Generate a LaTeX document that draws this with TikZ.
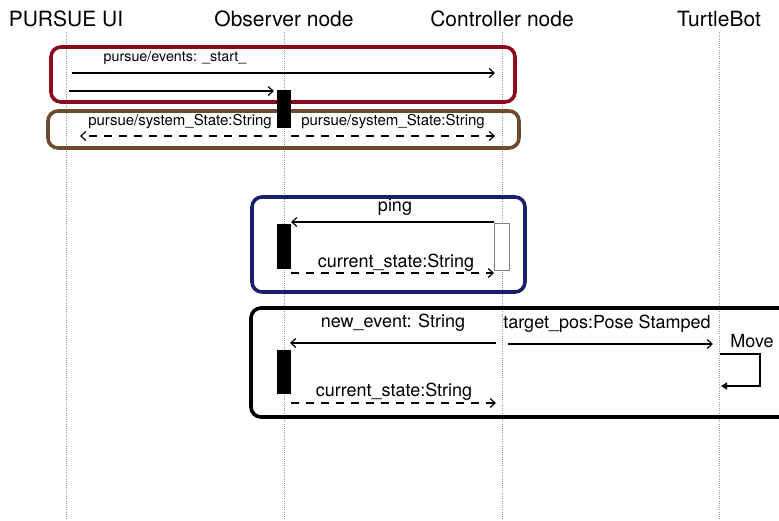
\documentclass[tikz,border=0pt]{standalone}
\usepackage{fontspec}
\setmainfont{TeX Gyre Heros}
\usetikzlibrary{arrows.meta}
\definecolor{boxred}{HTML}{8C0A1E}
\definecolor{boxbrown}{HTML}{6E4A2E}
\definecolor{boxnavy}{HTML}{1B1F6B}
\tikzset{
  head/.style={font=\fontsize{21}{21}\selectfont, inner sep=0pt},
  lifeline/.style={gray!80, line width=0.8pt, dash pattern=on 1pt off 1.2pt},
  group/.style={line width=3.6pt, rounded corners=10pt},
  msg/.style={line width=1.2pt, -{Straight Barb[length=5pt,width=9pt,line width=1.2pt]}},
  reply/.style={msg, dash pattern=on 8pt off 7pt},
  lbl/.style={inner sep=0pt},
  lblsm/.style={lbl, font=\fontsize{14.3}{14.3}\selectfont},
  lblmd/.style={lbl, font=\fontsize{15}{15}\selectfont},
  lblbig/.style={lbl, font=\fontsize{18}{18}\selectfont},
  actbar/.style={fill=black, draw=none, minimum width=14pt, inner sep=0pt},
  idlebar/.style={fill=white, draw=gray, line width=0.8pt, minimum width=15pt, inner sep=0pt},
}
\begin{document}
\begin{tikzpicture}[x=1pt, y=-1pt]
\useasboundingbox (0,0) rectangle (779,520);
\clip (0,0) rectangle (779,520);

% participants
\node[head] (ui)   at (66,19)  {PURSUE UI};
\node[head] (obs)  at (284,19) {Observer node};
\node[head] (ctrl) at (502,19) {Controller node};
\node[head] (bot)  at (719,19) {TurtleBot};

% lifelines
\coordinate (uiEnd)   at (66,520);
\coordinate (obsEnd)  at (284,520);
\coordinate (ctrlEnd) at (502,520);
\coordinate (botEnd)  at (719,520);
\draw[lifeline] (66,32) -- (uiEnd);
\draw[lifeline] (284,32) -- (obsEnd);
\draw[lifeline] (502,32) -- (ctrlEnd);
\draw[lifeline] (719,32) -- (botEnd);

% interaction groups
\draw[group, boxred]   (51,47)   rectangle (515,102);
\draw[group, boxbrown] (48,111)  rectangle (519,148);
\draw[group, boxnavy]  (252,197) rectangle (525,292);
\draw[group, black]    (251,308) rectangle (800,417);

% start event
\coordinate (s1a) at (72,73);  \coordinate (s1b) at (495,73);
\draw[msg] (s1a) -- (s1b);
\node[lblsm] (l1) at (175,58) {pursue/events: \_start\_};
\coordinate (s2a) at (69,91);  \coordinate (s2b) at (274,91);
\draw[msg] (s2a) -- (s2b);

% system state broadcast
\node[actbar, minimum height=38pt] (bar1) at (284,109) {};
\coordinate (s3a) at (277,136); \coordinate (s3b) at (80,136);
\coordinate (s3c) at (291,136); \coordinate (s3d) at (495,136);
\draw[reply] (s3a) -- (s3b);
\draw[reply] (s3c) -- (s3d);
\node[lblmd] (l3a) at (180,122) {pursue/system\_State:String};
\node[lblmd] (l3b) at (393,122) {pursue/system\_State:String};

% ping
\node[actbar, minimum height=45pt] (bar2) at (284,246.5) {};
\node[idlebar, minimum height=47pt] (idle) at (501.5,246.5) {};
\coordinate (p1a) at (494,222); \coordinate (p1b) at (291,222);
\draw[msg] (p1a) -- (p1b);
\node[lblbig] (l4) at (395,207) {ping};
\coordinate (p2a) at (291,273); \coordinate (p2b) at (494,273);
\draw[reply] (p2a) -- (p2b);
\node[lblbig] (l5) at (396,263) {current\_state:String};

% new event
\node[actbar, minimum height=44pt] (bar3) at (283.5,372) {};
\coordinate (n1a) at (496,343); \coordinate (n1b) at (290,343);
\draw[msg] (n1a) -- (n1b);
\node[lblbig] (l6) at (393,323) {new\_event: String};
\coordinate (n2a) at (508,344); \coordinate (n2b) at (713,344);
\draw[msg] (n2a) -- (n2b);
\node[lblbig] (l7) at (607,324) {target\_pos:Pose Stamped};
\coordinate (m1) at (720,354); \coordinate (m2) at (721,386);
\draw[line width=1.2pt, -{Triangle[length=6pt,width=7pt]}] (m1) -- (760,354) -- (760,386) -- (m2);
\node[lblbig] (l8) at (752,341) {Move};
\coordinate (n3a) at (291,403); \coordinate (n3b) at (496,403);
\draw[reply] (n3a) -- (n3b);
\node[lblbig] (l9) at (394,392) {current\_state:String};
\end{tikzpicture}
\end{document}
